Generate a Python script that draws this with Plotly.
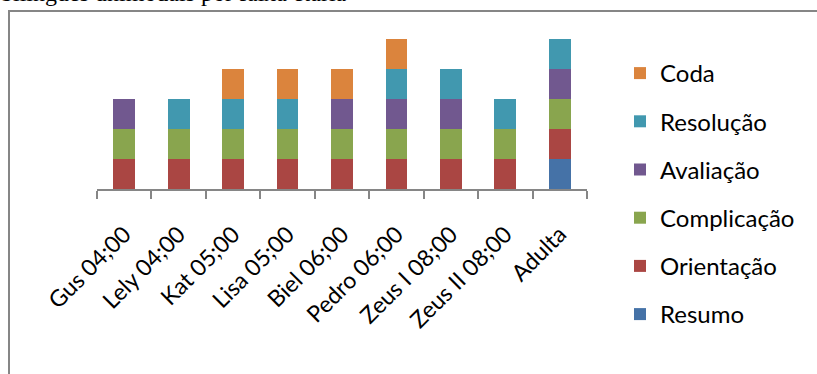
import plotly.graph_objects as go

categories = ["Gus 04;00", "Lely 04;00", "Kat 05;00", "Lisa 05;00", "Biel 06;00",
              "Pedro 06;00", "Zeus I 08;00", "Zeus II 08;00", "Adulta"]
resumo      = [0, 0, 0, 0, 0, 0, 0, 0, 1]
orientacao  = [1, 1, 1, 1, 1, 1, 1, 1, 1]
complicacao = [1, 1, 1, 1, 1, 1, 1, 1, 1]
avaliacao   = [1, 0, 0, 0, 1, 1, 1, 0, 1]
resolucao   = [0, 1, 1, 1, 0, 1, 1, 1, 1]
coda        = [0, 0, 1, 1, 1, 1, 0, 0, 0]

series = [
    ("Resumo", resumo, "#4572A7"),
    ("Orientação", orientacao, "#AA4643"),
    ("Complicação", complicacao, "#89A54E"),
    ("Avaliação", avaliacao, "#71588F"),
    ("Resolução", resolucao, "#4198AF"),
    ("Coda", coda, "#DB843D"),
]
title_text = "bilíngues unimodais por faixa etária"

W, H = 817, 374
L, R, T, B = 97, 230, 9, 185
pw, ph = W - L - R, H - T - B

def px(x):
    return (x - L) / pw

def py(y):
    return (H - B - y) / ph

fig = go.Figure()
n = len(series)
for i, (name, vals, color) in enumerate(series):
    fig.add_trace(go.Bar(
        x=categories, y=vals, name=name, legendgroup=name,
        legendrank=n - i,
        marker=dict(color=color, line=dict(width=0)),
        hoverinfo="skip",
    ))

fig.update_layout(
    width=W, height=H,
    margin=dict(l=L, r=R, t=T, b=B, pad=0, autoexpand=False),
    barmode="stack", bargap=0.6,
    paper_bgcolor="white", plot_bgcolor="white",
    font=dict(family="Lato, sans-serif", color="#000000"),
    showlegend=True,
    legend=dict(
        x=px(620), xanchor="left", y=py(51), yanchor="top",
        traceorder="grouped", tracegroupgap=14, maxheight=340,
        font=dict(family="Lato, sans-serif", size=24, color="#000000"),
        itemwidth=30, bgcolor="rgba(0,0,0,0)",
    ),
    xaxis=dict(
        type="category", showline=True, linecolor="#868686", linewidth=1.5,
        ticks="outside", tickson="boundaries", ticklen=8, tickcolor="#868686",
        tickwidth=1.5, tickangle=-45, showgrid=False, zeroline=False,
        tickfont=dict(family="Lato, sans-serif", size=23, color="#000000"),
        ticklabelstandoff=21, automargin=False,
    ),
    yaxis=dict(range=[0, 6], visible=False, showgrid=False, zeroline=False),
    shapes=[dict(
        type="rect", xref="paper", yref="paper",
        x0=px(9), x1=px(840), y0=py(11), y1=py(420),
        line=dict(color="#868686", width=2), fillcolor="rgba(0,0,0,0)", layer="below",
    )],
    annotations=[dict(
        text=title_text, xref="paper", yref="paper",
        x=px(-1), xanchor="left", y=py(8), yanchor="bottom",
        showarrow=False, font=dict(family="Liberation Serif, serif", size=24, color="#000000"),
    )],
)

fig.write_html("out.html")
